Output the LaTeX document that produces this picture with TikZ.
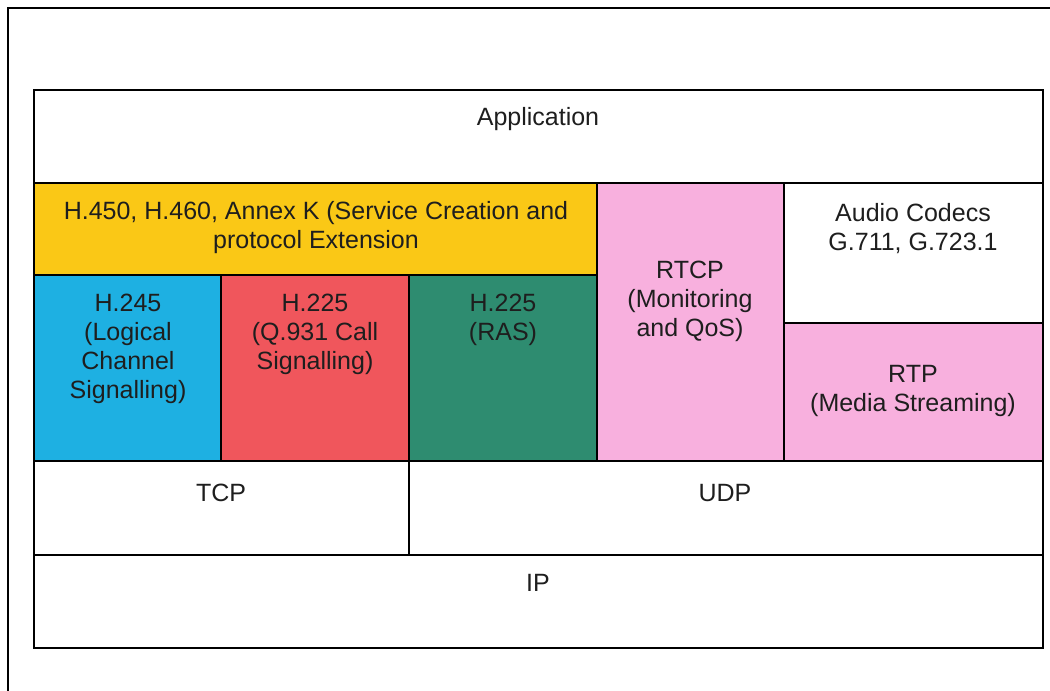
\documentclass[tikz,border=0pt]{standalone}
\usepackage{fontspec}
\setmainfont{Liberation Sans}
\definecolor{annexyellow}{RGB}{250,200,22}
\definecolor{hblue}{RGB}{30,176,226}
\definecolor{hred}{RGB}{240,86,92}
\definecolor{hgreen}{RGB}{46,140,112}
\definecolor{rtppink}{RGB}{248,176,222}
\definecolor{inktext}{RGB}{30,30,30}

\begin{document}
\begin{tikzpicture}[x=0.5pt, y=-0.5pt,
    layer/.style={line width=0.9pt, draw=black},
    lbl/.style={font=\fontsize{12.5}{14.5}\selectfont, align=center, text=inktext, inner sep=0pt}]
  \useasboundingbox (0,0) rectangle (1050,691);

  % page frame (cut off at right and bottom)
  \draw[line width=0.9pt] (1050,8) -- (8,8) -- (8,691);

  % coloured blocks of the stack
  \fill[annexyellow] (34,183) rectangle (597,275);
  \foreach \xa/\xb/\col in {34/221/hblue, 221/409/hred, 409/597/hgreen} {
    \fill[\col] (\xa,275) rectangle (\xb,461);
  }
  \fill[rtppink] (597,183) rectangle (784,461);
  \fill[rtppink] (784,323) rectangle (1043,461);

  % outline and layer borders
  \draw[layer] (34,90) rectangle (1043,648);
  \foreach \y in {183,461,555} {
    \draw[layer] (34,\y) -- (1043,\y);
  }
  \draw[layer] (34,275) -- (597,275);
  \draw[layer] (784,323) -- (1043,323);
  \foreach \x in {597,784} {
    \draw[layer] (\x,183) -- (\x,461);
  }
  \draw[layer] (221,275) -- (221,461);
  \draw[layer] (409,275) -- (409,555);

  % labels
  \node[lbl] (app) at (538,119) {Application};
  \node[lbl] (annex) at (316,227.5) {H.450, H.460, Annex K (Service Creation and\\protocol Extension};
  \node[lbl] (h245) at (128,348.5) {H.245\\(Logical\\Channel\\Signalling)};
  \node[lbl] (h225q) at (315,334) {H.225\\(Q.931 Call\\Signalling)};
  \node[lbl] (ras) at (503,319.5) {H.225\\(RAS)};
  \node[lbl] (rtcp) at (690,301) {RTCP\\(Monitoring\\and QoS)};
  \node[lbl] (codecs) at (913,228.5) {Audio Codecs\\G.711, G.723.1};
  \node[lbl] (rtp) at (913,391) {RTP\\(Media Streaming)};
  \node[lbl] (tcp) at (221,493) {TCP};
  \node[lbl] (udp) at (725,493) {UDP};
  \node[lbl] (ip) at (538,583) {IP};
\end{tikzpicture}
\end{document}
